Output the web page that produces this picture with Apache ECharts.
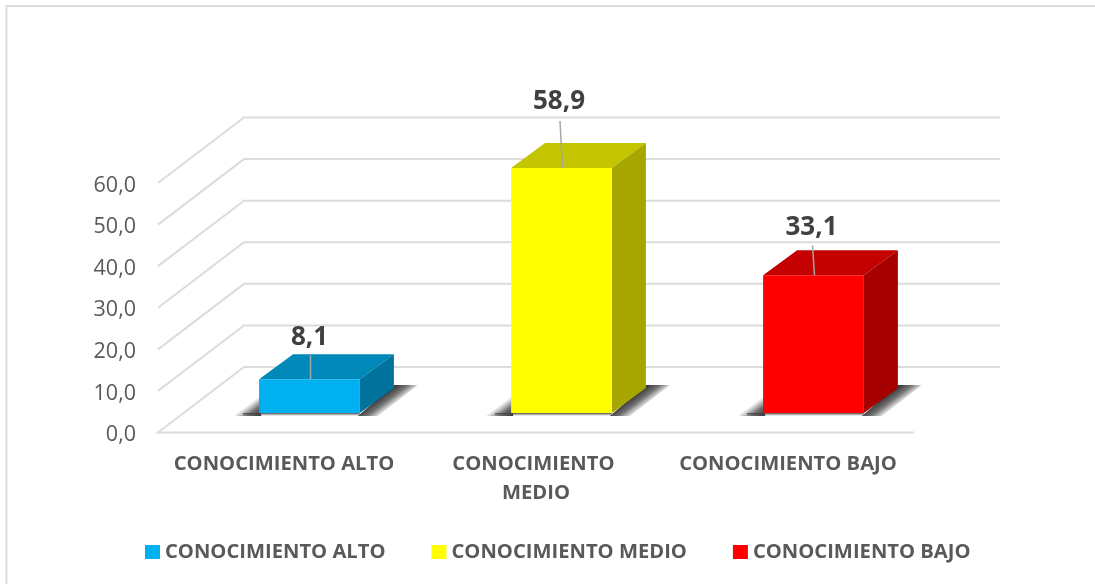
<!DOCTYPE html>
<html><head><meta charset="utf-8">
<style>html,body{margin:0;padding:0;background:#fff}#c{width:1095px;height:584px}</style>
<script src="https://cdn.jsdelivr.net/npm/echarts@6/dist/echarts.min.js"></script>
</head><body><div id="c"></div>
<script>
const categories = ['CONOCIMIENTO ALTO', 'CONOCIMIENTO MEDIO', 'CONOCIMIENTO BAJO'];
const values = [8.1, 58.9, 33.1];
const barColors = ['#00B0F0', '#FFFF00', '#FF0000'];
const gridTicks = [0, 10, 20, 30, 40, 50, 60];

const labelLift = [42, 66, 48];
const leaderLift = [24, 47, 30];
const leaderSkew = [0, -2.5, -2];
const FONT = '"Open Sans", sans-serif';
const fmt = v => v.toFixed(1).replace('.', ',');
function shade(hex, f) {
  const n = parseInt(hex.slice(1), 16);
  const c = s => Math.round(((n >> s) & 255) * f);
  return `rgb(${c(16)},${c(8)},${c(0)})`;
}
const fade = (x, y, x2, y2) => new echarts.graphic.LinearGradient(x, y, x2, y2, [
  { offset: 0, color: 'rgba(50,50,50,0.95)' },
  { offset: 0.45, color: 'rgba(70,70,70,0.75)' },
  { offset: 1, color: 'rgba(90,90,90,0)' }
], true);
const chart = echarts.init(document.getElementById('c'));

const wallSeries = {
  type: 'custom', silent: true, z: 1, coordinateSystem: 'cartesian2d',
  data: gridTicks.map(t => [0, t]),
  renderItem(params, api) {
    const band = api.size([1, 0])[0];
    const p = api.coord([0, api.value(1)]);
    const x0 = p[0] - band / 2, y = p[1], dx = 86, dy = -65.5;
    const pts = [[x0 + dx, y + dy], [x0 + band * 3 + dx, y + dy]];
    const isZero = api.value(1) === 0;
    const line = isZero
      ? [[x0 + band * 3, y], [x0, y], ...pts]
      : [[x0, y], ...pts];
    return {
      type: 'group',
      children: [
        { type: 'polyline', shape: { points: line }, style: { stroke: '#DCDCDC', lineWidth: 2, fill: null } },
        { type: 'text', x: x0 - 22, y: y + 2.5,
          style: { text: fmt(api.value(1)), font: '21.5px ' + FONT, fill: '#595959', align: 'right', verticalAlign: 'middle' } }
      ]
    };
  }
};

const barSeries = categories.map((name, i) => ({
  name, type: 'custom', coordinateSystem: 'cartesian2d', silent: true, z: 2,
  itemStyle: { color: barColors[i] },
  data: [[i, values[i]]],
  renderItem(params, api) {
    const band = api.size([1, 0])[0];
    const w = band * 0.4;
    const base = api.coord([api.value(0), 0]);
    const top = api.coord([api.value(0), api.value(1)]);
    const L = base[0] + 25.5 - w / 2, R = L + w;
    const B = base[1] - 19.5, T = top[1] - 19.5;
    const dx = 34, dy = -25;
    const c = barColors[i];
    const poly = (points, fill) => ({ type: 'polygon', shape: { points }, style: { fill } });
    const mid = (L + R) / 2;
    return {
      type: 'group',
      children: [
        poly([[L - 26, B + 3], [L + 2, B + 3], [L + 2, B - 18]], fade(L, B + 2, L - 9, B - 10)),
        poly([[R - 2, B + 3], [R + 18, B + 3], [R + dx + 24, B + dy - 3], [R + dx, B + dy - 3]], fade(R, B, R + 9, B + 12)),
        poly([[L - 16, B], [R, B], [R, B + 3], [L - 16, B + 3]], new echarts.graphic.LinearGradient(0, 0, 0, 1, [
          { offset: 0, color: 'rgba(60,60,60,0.9)' }, { offset: 1, color: 'rgba(90,90,90,0)' }])),
        poly([[L, T], [L + dx, T + dy], [R + dx, T + dy], [R, T]], shade(c, 0.77)),
        poly([[R, T], [R + dx, T + dy], [R + dx, B + dy], [R, B]], shade(c, 0.65)),
        poly([[L, T], [R, T], [R, B], [L, B]], c),
        { type: 'line', shape: { x1: mid + 1 + leaderSkew[i], y1: T - leaderLift[i], x2: mid + 1, y2: T },
          style: { stroke: '#A6A6A6', lineWidth: 1.5 } },
        { type: 'text', x: mid + leaderSkew[i], y: T - labelLift[i],
          style: { text: fmt(api.value(1)), font: 'bold 26px ' + FONT, fill: '#404040', align: 'center', verticalAlign: 'middle' } }
      ]
    };
  }
}));

chart.setOption({
  animation: false,
  backgroundColor: '#fff',
  graphic: [{ type: 'polyline', silent: true, shape: { points: [[6.5, 584], [6.5, 6], [1095, 6]] }, style: { fill: null, stroke: '#DCDCDC', lineWidth: 2 } }],
  grid: { left: 158, width: 756, top: 183, bottom: 151.5 },
  legend: {
    data: categories, left: 140, top: 537, itemWidth: 15, itemHeight: 14, itemGap: 46,
    icon: 'rect',
    textStyle: { fontFamily: FONT, fontWeight: 'bold', fontSize: 20.2, color: '#595959' }
  },
  xAxis: {
    type: 'category', data: categories,
    axisLine: { show: false }, axisTick: { show: false },
    axisLabel: { fontFamily: FONT, fontWeight: 'bold', fontSize: 20.2, color: '#595959', width: 230, overflow: 'break', lineHeight: 29, margin: 17, interval: 0 }
  },
  yAxis: {
    type: 'value', min: 0, max: 60, interval: 10,
    axisLine: { show: false }, axisTick: { show: false }, splitLine: { show: false },
    axisLabel: { show: false }
  },
  series: [wallSeries, ...barSeries]
});
</script></body></html>
